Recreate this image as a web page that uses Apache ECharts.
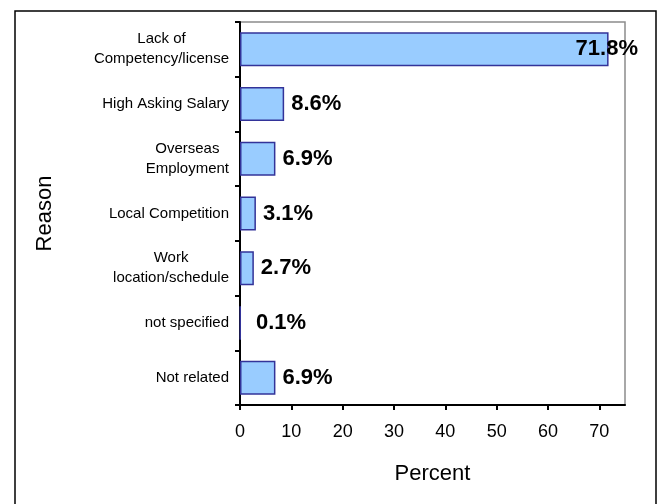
<!DOCTYPE html>
<html>
<head>
<meta charset="utf-8">
<script src="https://cdn.jsdelivr.net/npm/echarts@6/dist/echarts.min.js"></script>
<style>
html,body{margin:0;padding:0;background:#fff;}
#main{width:659px;height:504px;}
</style>
</head>
<body>
<div id="main"></div>
<script>
// Data
const categories = ['Lack of\nCompetency/license', 'High Asking Salary', 'Overseas\nEmployment', 'Local Competition', 'Work\nlocation/schedule', 'not specified', 'Not related'];
const percents = [71.8, 8.6, 6.9, 3.1, 2.7, 0.1, 6.9];
const xTicks = [0, 10, 20, 30, 40, 50, 60, 70];
const xTitle = 'Percent';
const yTitle = 'Reason';

const FONT = 'Arial, "Liberation Sans", sans-serif';
const chart = echarts.init(document.getElementById('main'), null, {renderer: 'canvas'});

const seriesData = percents.map((v, i) => {
  if (v > 60) {
    return {value: v, label: {offset: [-40, 0]}};
  }
  if (v < 1) {
    return {value: v, label: {offset: [8, 0]}};
  }
  return v;
});

chart.setOption({
  animation: false,
  backgroundColor: '#fff',
  graphic: [{
    type: 'rect',
    shape: {x: 15, y: 11, width: 641, height: 510},
    style: {fill: 'none', stroke: '#000', lineWidth: 1.5},
    silent: true,
    z: -10
  }],
  grid: {
    left: 240, right: 34, top: 22, bottom: 99,
    show: true, borderColor: '#8c8c8c', borderWidth: 1.5, backgroundColor: 'transparent'
  },
  xAxis: {
    type: 'value',
    min: 0, max: 75, interval: 10,
    name: xTitle,
    nameLocation: 'middle',
    nameGap: 58,
    nameTextStyle: {fontFamily: FONT, fontSize: 22, color: '#000'},
    splitLine: {show: false},
    axisLine: {show: true, lineStyle: {color: '#000', width: 2}},
    axisTick: {show: true, length: 5, lineStyle: {color: '#000', width: 2}, customValues: xTicks},
    axisLabel: {fontFamily: FONT, fontSize: 18, color: '#000', margin: 18, customValues: xTicks}
  },
  yAxis: {
    type: 'category',
    data: categories,
    inverse: true,
    name: yTitle,
    nameLocation: 'middle',
    nameRotate: 90,
    nameGap: 184,
    nameTextStyle: {fontFamily: FONT, fontSize: 22, color: '#000'},
    axisLine: {show: true, lineStyle: {color: '#000', width: 2}},
    axisTick: {show: true, length: 5, lineStyle: {color: '#000', width: 2}},
    axisLabel: {
      fontFamily: FONT, fontSize: 15, color: '#000', margin: 11, lineHeight: 20,
      formatter: function (val) {
        return val.split('\n').map(s => '{c|' + s + '}').join('\n');
      },
      rich: {c: {align: 'center', fontFamily: FONT, fontSize: 15, color: '#000', lineHeight: 20}}
    }
  },
  series: [{
    type: 'bar',
    data: seriesData,
    barWidth: 34,
    itemStyle: {color: '#99ccff', borderColor: '#333399', borderWidth: 1.5},
    label: {
      show: true,
      position: 'right',
      distance: 7,
      fontFamily: FONT,
      fontSize: 22,
      fontWeight: 'bold',
      color: '#000',
      formatter: p => p.value.toFixed(1) + '%'
    }
  }]
});
</script>
</body>
</html>
